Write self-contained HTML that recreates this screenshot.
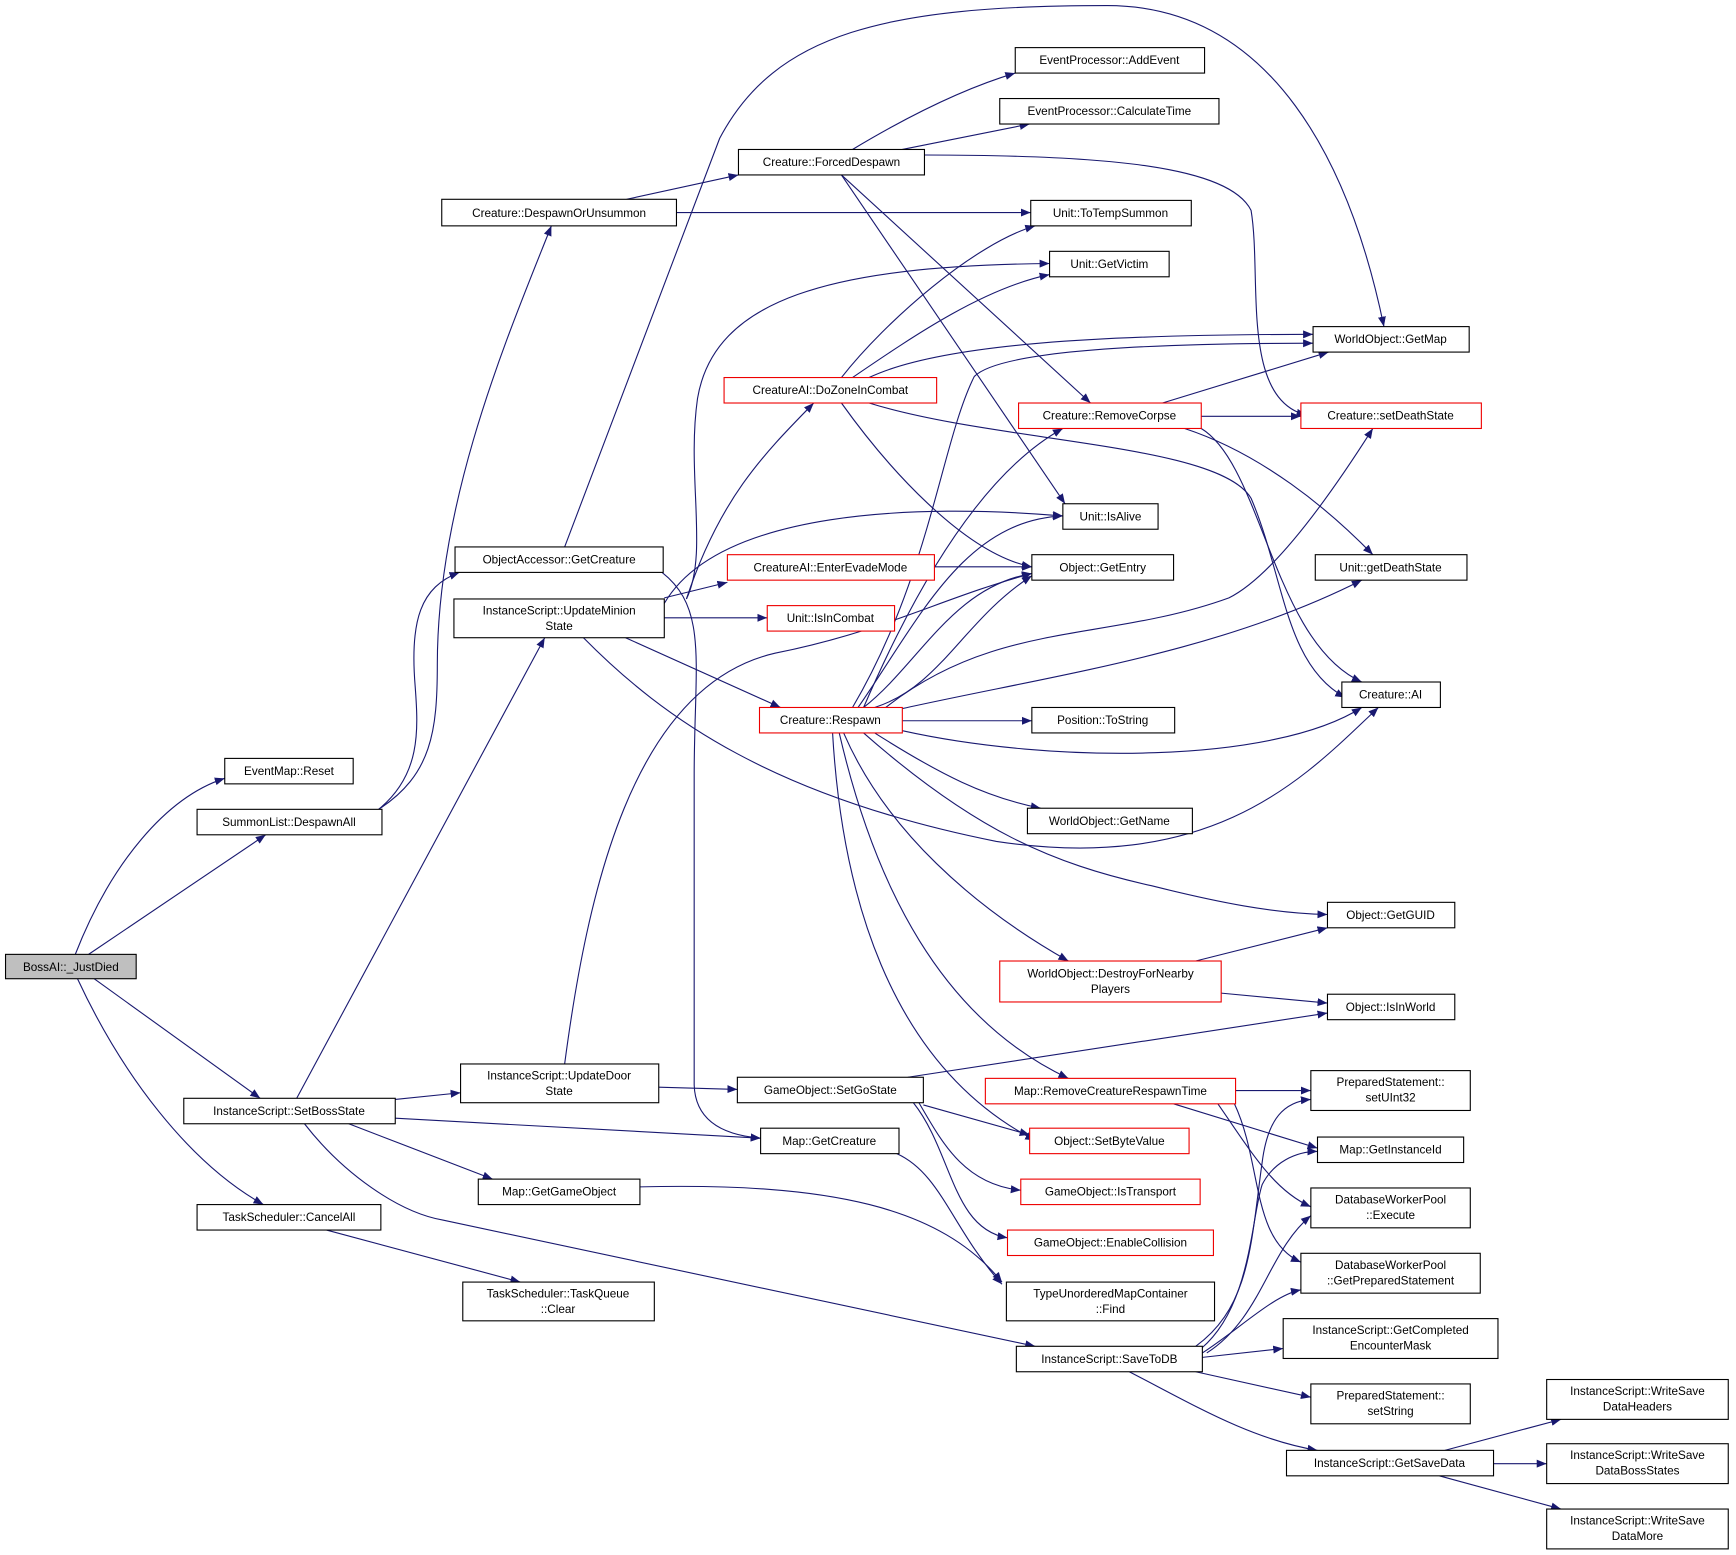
<!DOCTYPE html>
<html><head><meta charset="utf-8"><style>
html,body{margin:0;padding:0;background:#fff}
svg{display:block}
text{font-family:"Liberation Sans","DejaVu Sans",sans-serif;font-size:10.6px;fill:#000;text-anchor:middle}
.n{fill:#fff;stroke:#000;stroke-width:1}
.r{fill:#fff;stroke:#e00;stroke-width:1}
.e{fill:none;stroke:#191970;stroke-width:1}
</style></head><body>
<svg width="1736" height="1555" viewBox="0 0 1568 1404.5" xmlns="http://www.w3.org/2000/svg">
<defs><marker id="a" viewBox="0 0 10 10" refX="10" refY="5" markerWidth="9" markerHeight="9" markerUnits="userSpaceOnUse" orient="auto"><path d="M0,1 L10,5 L0,9 z" fill="#191970"/></marker></defs>
<g marker-end="url(#a)" class="e">
<path class="e" d="M68,862 C100,780 150,720 203,703"/>
<path class="e" d="M80,862 L240,754"/>
<path class="e" d="M85,884 L235,992"/>
<path class="e" d="M70,884 C110,970 170,1050 238,1088"/>
<path class="e" d="M342,731 C390,700 395,660 395,600 C395,450 460,300 498,204"/>
<path class="e" d="M342,731 C380,700 378,660 375,620 C370,560 380,530 415,517"/>
<path class="e" d="M268,992 L492,576"/>
<path class="e" d="M357,993 L416,987"/>
<path class="e" d="M357,1010 L687,1028"/>
<path class="e" d="M315,1015 L445,1065"/>
<path class="e" d="M275,1015 C310,1060 360,1095 400,1102 L935,1216"/>
<path class="e" d="M295,1111 L470,1158"/>
<path class="e" d="M566,180 L667,158"/>
<path class="e" d="M611,192 L931,192"/>
<path class="e" d="M510,494 L650,125 C700,30 800,5 1000,5 C1150,5 1220,150 1250,295"/>
<path class="e" d="M598,517 C640,550 627,600 627,700 L627,980 C628,1010 650,1025 687,1028"/>
<path class="e" d="M620,541 C650,450 690,410 735,364"/>
<path class="e" d="M620,541 C640,500 620,430 630,360 C645,270 750,240 948,238"/>
<path class="e" d="M600,545 C650,460 830,455 960,466"/>
<path class="e" d="M600,540 L657,526"/>
<path class="e" d="M600,558 L693,558"/>
<path class="e" d="M565,576 L705,639"/>
<path class="e" d="M527,576 C600,650 700,720 900,760 C1100,790 1180,700 1245,639"/>
<path class="e" d="M510,961 C530,810 570,620 700,590 C800,570 850,540 932,518"/>
<path class="e" d="M595,982 L666,984"/>
<path class="e" d="M578,1072 C750,1068 850,1090 905,1158"/>
<path class="e" d="M810,1042 C850,1060 860,1110 905,1160"/>
<path class="e" d="M820,973 L1199,915"/>
<path class="e" d="M834,998 L930,1025"/>
<path class="e" d="M830,996 C850,1030 870,1070 922,1075"/>
<path class="e" d="M825,996 C860,1040 860,1110 910,1118"/>
<path class="e" d="M770,135 C820,105 870,80 917,66"/>
<path class="e" d="M815,135 L930,112"/>
<path class="e" d="M835,140 C1000,140 1110,150 1130,190 C1140,250 1120,360 1180,375"/>
<path class="e" d="M760,158 L985,364"/>
<path class="e" d="M760,158 L962,455"/>
<path class="e" d="M760,341 C800,290 880,220 935,204"/>
<path class="e" d="M770,341 C830,300 890,260 948,248"/>
<path class="e" d="M785,341 C850,310 1000,302 1186,302"/>
<path class="e" d="M760,364 C800,420 870,500 932,512"/>
<path class="e" d="M785,364 C900,400 1100,400 1130,450 C1160,520 1160,600 1215,630"/>
<path class="e" d="M844,512 L932,512"/>
<path class="e" d="M1050,364 L1200,318"/>
<path class="e" d="M1085,376 L1175,376"/>
<path class="e" d="M1070,387 C1140,410 1200,460 1240,501"/>
<path class="e" d="M1085,387 C1140,420 1150,580 1230,616"/>
<path class="e" d="M770,639 C840,520 850,400 880,340 C900,320 1000,310 1186,310"/>
<path class="e" d="M780,639 C840,500 900,420 960,387"/>
<path class="e" d="M775,639 C830,560 870,470 960,466"/>
<path class="e" d="M780,639 C830,600 860,530 932,518"/>
<path class="e" d="M790,639 C850,620 870,560 932,520"/>
<path class="e" d="M800,639 C900,560 1000,580 1110,540 C1150,520 1200,450 1240,387"/>
<path class="e" d="M815,640 C950,610 1100,590 1230,524"/>
<path class="e" d="M815,651 L932,651"/>
<path class="e" d="M815,660 C950,690 1150,690 1230,639"/>
<path class="e" d="M790,662 C850,700 890,720 940,730"/>
<path class="e" d="M780,662 C880,750 950,780 1040,800 C1100,815 1150,825 1199,826"/>
<path class="e" d="M762,662 C800,750 880,820 965,868"/>
<path class="e" d="M758,662 C790,800 850,920 965,974"/>
<path class="e" d="M752,662 C760,800 800,960 935,1030"/>
<path class="e" d="M1080,868 L1199,838"/>
<path class="e" d="M1103,897 L1199,906"/>
<path class="e" d="M1116,985 L1184,985"/>
<path class="e" d="M1060,997 L1190,1037"/>
<path class="e" d="M1100,997 C1130,1040 1150,1075 1184,1090"/>
<path class="e" d="M1115,997 C1140,1050 1130,1120 1175,1140"/>
<path class="e" d="M1080,1216 C1130,1180 1130,1120 1140,1050 C1145,1010 1160,995 1184,993"/>
<path class="e" d="M1085,1218 C1130,1180 1130,1100 1140,1070 C1150,1050 1170,1040 1190,1040"/>
<path class="e" d="M1090,1222 C1140,1190 1145,1130 1184,1098"/>
<path class="e" d="M1086,1222 C1120,1200 1150,1170 1175,1165"/>
<path class="e" d="M1086,1226 L1159,1218"/>
<path class="e" d="M1080,1239 L1184,1262"/>
<path class="e" d="M1020,1239 C1080,1270 1130,1300 1190,1310"/>
<path class="e" d="M1305,1310 L1410,1282"/>
<path class="e" d="M1349,1322 L1397,1322"/>
<path class="e" d="M1300,1333 L1410,1363"/>
</g>
<rect x="5" y="862" width="118" height="22" fill="#bfbfbf" stroke="#000"/><text x="64" y="877">BossAI::_JustDied</text>
<rect class="n" x="203" y="685" width="116" height="23"/><text x="261" y="700">EventMap::Reset</text>
<rect class="n" x="178" y="731" width="167" height="23"/><text x="261" y="746">SummonList::DespawnAll</text>
<rect class="n" x="166" y="992" width="191" height="23"/><text x="261" y="1007">InstanceScript::SetBossState</text>
<rect class="n" x="178" y="1088" width="166" height="23"/><text x="261" y="1103">TaskScheduler::CancelAll</text>
<rect class="n" x="418" y="1158" width="173" height="35"/><text x="504" y="1172">TaskScheduler::TaskQueue</text><text x="504" y="1186">::Clear</text>
<rect class="n" x="399" y="180" width="212" height="24"/><text x="505" y="196">Creature::DespawnOrUnsummon</text>
<rect class="n" x="411" y="494" width="188" height="23"/><text x="505" y="509">ObjectAccessor::GetCreature</text>
<rect class="n" x="410" y="541" width="190" height="35"/><text x="505" y="555">InstanceScript::UpdateMinion</text><text x="505" y="569">State</text>
<rect class="n" x="416" y="961" width="179" height="35"/><text x="505" y="975">InstanceScript::UpdateDoor</text><text x="505" y="989">State</text>
<rect class="n" x="432" y="1065" width="146" height="23"/><text x="505" y="1080">Map::GetGameObject</text>
<rect class="n" x="687" y="1019" width="125" height="23"/><text x="749" y="1034">Map::GetCreature</text>
<rect class="n" x="666" y="973" width="168" height="23"/><text x="750" y="988">GameObject::SetGoState</text>
<rect class="n" x="667" y="135" width="168" height="23"/><text x="751" y="150">Creature::ForcedDespawn</text>
<rect class="n" x="917" y="43" width="171" height="23"/><text x="1002" y="58">EventProcessor::AddEvent</text>
<rect class="n" x="903" y="89" width="198" height="23"/><text x="1002" y="104">EventProcessor::CalculateTime</text>
<rect class="n" x="931" y="181" width="145" height="23"/><text x="1003" y="196">Unit::ToTempSummon</text>
<rect class="n" x="948" y="227" width="108" height="23"/><text x="1002" y="242">Unit::GetVictim</text>
<rect class="r" x="654" y="341" width="192" height="23"/><text x="750" y="356">CreatureAI::DoZoneInCombat</text>
<rect class="r" x="657" y="501" width="187" height="23"/><text x="750" y="516">CreatureAI::EnterEvadeMode</text>
<rect class="r" x="693" y="547" width="115" height="23"/><text x="750" y="562">Unit::IsInCombat</text>
<rect class="r" x="686" y="639" width="129" height="23"/><text x="750" y="654">Creature::Respawn</text>
<rect class="r" x="920" y="364" width="165" height="23"/><text x="1002" y="379">Creature::RemoveCorpse</text>
<rect class="n" x="960" y="455" width="86" height="23"/><text x="1003" y="470">Unit::IsAlive</text>
<rect class="n" x="932" y="501" width="128" height="23"/><text x="996" y="516">Object::GetEntry</text>
<rect class="n" x="932" y="639" width="129" height="23"/><text x="996" y="654">Position::ToString</text>
<rect class="n" x="928" y="730" width="149" height="23"/><text x="1002" y="745">WorldObject::GetName</text>
<rect class="r" x="903" y="868" width="200" height="37"/><text x="1003" y="883">WorldObject::DestroyForNearby</text><text x="1003" y="897">Players</text>
<rect class="r" x="890" y="974" width="226" height="23"/><text x="1003" y="989">Map::RemoveCreatureRespawnTime</text>
<rect class="r" x="930" y="1019" width="144" height="23"/><text x="1002" y="1034">Object::SetByteValue</text>
<rect class="r" x="922" y="1065" width="162" height="23"/><text x="1003" y="1080">GameObject::IsTransport</text>
<rect class="r" x="910" y="1111" width="186" height="23"/><text x="1003" y="1126">GameObject::EnableCollision</text>
<rect class="n" x="909" y="1158" width="188" height="35"/><text x="1003" y="1172">TypeUnorderedMapContainer</text><text x="1003" y="1186">::Find</text>
<rect class="n" x="918" y="1216" width="168" height="23"/><text x="1002" y="1231">InstanceScript::SaveToDB</text>
<rect class="n" x="1186" y="295" width="141" height="23"/><text x="1256" y="310">WorldObject::GetMap</text>
<rect class="r" x="1175" y="364" width="163" height="23"/><text x="1256" y="379">Creature::setDeathState</text>
<rect class="n" x="1188" y="501" width="137" height="23"/><text x="1256" y="516">Unit::getDeathState</text>
<rect class="n" x="1212" y="616" width="89" height="23"/><text x="1256" y="631">Creature::AI</text>
<rect class="n" x="1199" y="815" width="115" height="23"/><text x="1256" y="830">Object::GetGUID</text>
<rect class="n" x="1199" y="898" width="115" height="23"/><text x="1256" y="913">Object::IsInWorld</text>
<rect class="n" x="1184" y="967" width="144" height="36"/><text x="1256" y="981">PreparedStatement::</text><text x="1256" y="995">setUInt32</text>
<rect class="n" x="1190" y="1027" width="132" height="23"/><text x="1256" y="1042">Map::GetInstanceId</text>
<rect class="n" x="1184" y="1073" width="144" height="36"/><text x="1256" y="1087">DatabaseWorkerPool</text><text x="1256" y="1101">::Execute</text>
<rect class="n" x="1175" y="1132" width="162" height="36"/><text x="1256" y="1146">DatabaseWorkerPool</text><text x="1256" y="1160">::GetPreparedStatement</text>
<rect class="n" x="1159" y="1191" width="194" height="36"/><text x="1256" y="1205">InstanceScript::GetCompleted</text><text x="1256" y="1219">EncounterMask</text>
<rect class="n" x="1184" y="1250" width="144" height="36"/><text x="1256" y="1264">PreparedStatement::</text><text x="1256" y="1278">setString</text>
<rect class="n" x="1162" y="1310" width="187" height="23"/><text x="1255" y="1325">InstanceScript::GetSaveData</text>
<rect class="n" x="1397" y="1246" width="164" height="36"/><text x="1479" y="1260">InstanceScript::WriteSave</text><text x="1479" y="1274">DataHeaders</text>
<rect class="n" x="1397" y="1304" width="164" height="36"/><text x="1479" y="1318">InstanceScript::WriteSave</text><text x="1479" y="1332">DataBossStates</text>
<rect class="n" x="1397" y="1363" width="164" height="36"/><text x="1479" y="1377">InstanceScript::WriteSave</text><text x="1479" y="1391">DataMore</text>
</svg>
</body></html>
